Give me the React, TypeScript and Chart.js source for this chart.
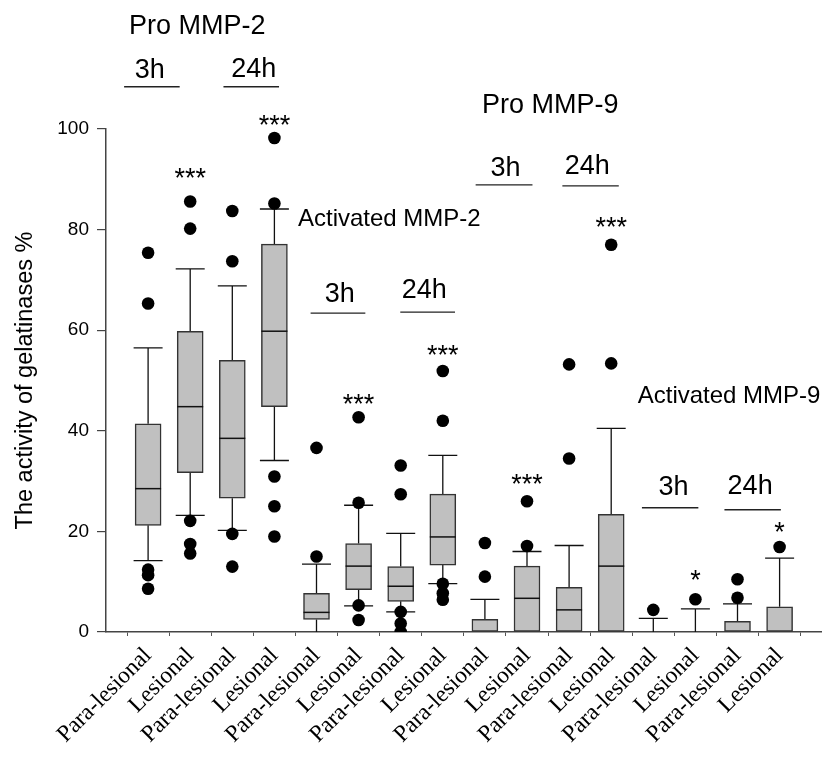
import React, { useEffect, useRef } from 'react';
import { Chart, registerables } from 'chart.js';

Chart.register(...registerables);

// ---------- data ----------
const categories = [
  'Para-lesional', 'Lesional', 'Para-lesional', 'Lesional',
  'Para-lesional', 'Lesional', 'Para-lesional', 'Lesional',
  'Para-lesional', 'Lesional', 'Para-lesional', 'Lesional',
  'Para-lesional', 'Lesional', 'Para-lesional', 'Lesional',
];

const whiskerLow = [14.2, 23.2, 20.2, 34.1, 0, 5.2, 4.0, 9.6, 0, 0, 0, 0, 0, 0, 0, 0];
const q1 = [21.2, 31.7, 26.6, 44.8, 2.5, 8.4, 6.1, 13.3, 0, 0, 0, 0, 0, 0, 0, 0];
const median = [28.5, 44.8, 38.5, 59.8, 3.9, 13.1, 9.1, 18.9, 0, 6.7, 4.4, 13.1, 0, 0, 0, 0];
const q3 = [41.4, 59.8, 54.0, 77.1, 7.7, 17.6, 13.0, 27.4, 2.5, 13.1, 8.9, 23.4, 0, 0, 2.1, 5.0];
const whiskerHigh = [56.5, 72.2, 68.8, 84.1, 13.5, 25.2, 19.6, 35.1, 6.5, 16.0, 17.2, 40.5, 2.7, 4.6, 5.6, 14.7];

const outliers = [
  [75.4, 65.3, 12.4, 11.3, 8.6],
  [85.6, 80.2, 22.1, 17.5, 15.6],
  [83.7, 73.7, 19.5, 13.0],
  [98.2, 85.2, 30.9, 25.0, 19.0],
  [36.6, 15.0],
  [42.7, 25.7, 5.3, 2.4],
  [33.1, 27.4, 4.0, 1.7, 0],
  [51.9, 42.0, 9.6, 7.7, 6.4],
  [17.7, 11.0],
  [26.0, 17.1],
  [53.2, 34.5],
  [77.0, 53.4],
  [4.4],
  [6.5],
  [10.5, 6.8],
  [16.9],
];

const significance = ['', '***', '', '***', '', '***', '', '***', '', '***', '', '***', '', '*', '', '*'];
const significanceLevel = [0, 91.5, 0, 102.2, 0, 46.7, 0, 56.3, 0, 30.8, 0, 81.8, 0, 11.6, 0, 21.3];

// group annotations (in axis units)
const groupTexts = [
  { text: 'Pro MMP-2', x: 2.17, y: 120.3, big: true },
  { text: '3h', x: 1.04, y: 111.7, big: true },
  { text: '24h', x: 3.51, y: 111.9, big: true },
  { text: 'Pro MMP-9', x: 10.55, y: 104.6, big: true },
  { text: '3h', x: 9.49, y: 92.2, big: true },
  { text: '24h', x: 11.43, y: 92.6, big: true },
  { text: 'Activated MMP-2', x: 6.73, y: 82.1, big: false },
  { text: '3h', x: 5.55, y: 67.0, big: true },
  { text: '24h', x: 7.56, y: 67.8, big: true },
  { text: 'Activated MMP-9', x: 14.8, y: 46.9, big: false },
  { text: '3h', x: 13.48, y: 28.8, big: true },
  { text: '24h', x: 15.3, y: 29.0, big: true },
];
const groupLines = [
  { x1: 0.43, x2: 1.75, y: 108.4 },
  { x1: 2.79, x2: 4.11, y: 108.4 },
  { x1: 8.78, x2: 10.13, y: 88.9 },
  { x1: 10.84, x2: 12.18, y: 88.7 },
  { x1: 4.86, x2: 6.16, y: 63.4 },
  { x1: 6.99, x2: 8.29, y: 63.6 },
  { x1: 12.73, x2: 14.07, y: 24.7 },
  { x1: 14.69, x2: 16.03, y: 24.3 },
];

const SANS = '"Liberation Sans", Arial, sans-serif';
const SERIF = '"Liberation Serif", "Times New Roman", serif';

export default function App() {
  const ref = useRef<HTMLCanvasElement>(null);

  useEffect(() => {
    if (!ref.current) return;
    const boxData = categories.map((_, i) => ({ x: i + 1, y: [q1[i], q3[i]] }));
    const outlierData = outliers.flatMap((vals, i) => vals.map((v) => ({ x: i + 1, y: v })));

    const BOX_W = 26;
    const CAP_W = 29;

    const extras = {
      id: 'boxExtras',
      beforeDatasetsDraw(chart: any) {
        const { ctx } = chart;
        const xs = chart.scales.x;
        const ys = chart.scales.y;
        ctx.save();
        ctx.strokeStyle = '#111';
        ctx.lineWidth = 1.3;
        categories.forEach((_, i) => {
          const cx = xs.getPixelForValue(i + 1);
          const yLow = ys.getPixelForValue(whiskerLow[i]);
          const yQ1 = ys.getPixelForValue(q1[i]);
          const yQ3 = ys.getPixelForValue(q3[i]);
          const yHigh = ys.getPixelForValue(whiskerHigh[i]);
          ctx.beginPath();
          ctx.moveTo(cx, yQ3);
          ctx.lineTo(cx, yHigh);
          ctx.moveTo(cx - CAP_W / 2, yHigh);
          ctx.lineTo(cx + CAP_W / 2, yHigh);
          if (q1[i] > whiskerLow[i]) {
            ctx.moveTo(cx, yQ1);
            ctx.lineTo(cx, yLow);
            if (whiskerLow[i] > 0) {
              ctx.moveTo(cx - CAP_W / 2, yLow);
              ctx.lineTo(cx + CAP_W / 2, yLow);
            }
          }
          ctx.stroke();
        });
        ctx.restore();
      },
      afterDatasetsDraw(chart: any) {
        const { ctx } = chart;
        const xs = chart.scales.x;
        const ys = chart.scales.y;
        ctx.save();
        ctx.strokeStyle = '#111';
        ctx.lineWidth = 1.5;
        categories.forEach((_, i) => {
          if (median[i] <= q1[i]) return;
          const cx = xs.getPixelForValue(i + 1);
          const yM = ys.getPixelForValue(median[i]);
          ctx.beginPath();
          ctx.moveTo(cx - BOX_W / 2, yM);
          ctx.lineTo(cx + BOX_W / 2, yM);
          ctx.stroke();
        });
        ctx.restore();
      },
      afterDraw(chart: any) {
        const { ctx } = chart;
        const xs = chart.scales.x;
        const ys = chart.scales.y;
        ctx.save();
        // significance stars
        const starSize = 27;
        ctx.fillStyle = '#000';
        ctx.textAlign = 'center';
        ctx.textBaseline = 'alphabetic';
        ctx.font = `${starSize}px ${SANS}`;
        significance.forEach((s, i) => {
          if (!s) return;
          const cx = xs.getPixelForValue(i + 1);
          const cy = ys.getPixelForValue(significanceLevel[i]);
          ctx.fillText(s, cx, cy + starSize * 0.58);
        });
        // group texts
        ctx.textBaseline = 'middle';
        groupTexts.forEach((g) => {
          ctx.font = `${g.big ? 27 : 24}px ${SANS}`;
          ctx.fillText(g.text, xs.getPixelForValue(g.x), ys.getPixelForValue(g.y));
        });
        ctx.strokeStyle = '#222';
        ctx.lineWidth = 1.3;
        groupLines.forEach((l) => {
          const y = ys.getPixelForValue(l.y);
          ctx.beginPath();
          ctx.moveTo(xs.getPixelForValue(l.x1), y);
          ctx.lineTo(xs.getPixelForValue(l.x2), y);
          ctx.stroke();
        });
        ctx.restore();
      },
    };

    const chart = new Chart(ref.current, {
      type: 'bar',
      data: {
        datasets: [
          {
            type: 'scatter',
            data: outlierData,
            pointRadius: 6.3,
            pointHoverRadius: 6.3,
            backgroundColor: '#000',
            borderColor: '#000',
            borderWidth: 0,
            order: 1,
          } as any,
          {
            type: 'bar',
            data: boxData,
            backgroundColor: '#c0c0c0',
            borderColor: '#333',
            borderWidth: 1.5,
            borderSkipped: false,
            barThickness: BOX_W,
            order: 2,
          } as any,
        ],
      },
      options: {
        responsive: false,
        animation: false,
        events: [],
        layout: { padding: { top: 129, right: 2, left: 0, bottom: 0 } },
        plugins: { legend: { display: false }, tooltip: { enabled: false } },
        scales: {
          x: {
            type: 'linear',
            min: 0,
            max: 17,
            offset: false,
            afterBuildTicks: (s: any) => {
              s.ticks = categories.map((_, i) => ({ value: i + 1 }));
            },
            ticks: {
              autoSkip: false,
              minRotation: 45,
              maxRotation: 45,
              callback: (v: any) => categories[Number(v) - 1] ?? '',
              font: { family: SERIF, size: 23.5 },
              color: '#000',
              padding: 6,
            },
            grid: { drawOnChartArea: false, tickLength: 4, color: '#555', lineWidth: 1 },
            border: { color: '#444', width: 1.5 },
            afterFit: (s: any) => {
              s.height = 125;
              s.paddingLeft = 0;
              s.paddingRight = 0;
            },
          },
          y: {
            min: 0,
            max: 100,
            ticks: { stepSize: 20, font: { family: SANS, size: 19 }, color: '#000', padding: 8 },
            grid: { drawOnChartArea: false, tickLength: 9, color: '#444', lineWidth: 1.2 },
            border: { color: '#444', width: 1.5 },
            title: {
              display: true,
              text: 'The activity of gelatinases %',
              font: { family: SANS, size: 23.5 },
              color: '#000',
              padding: { top: 11, bottom: 0 },
            },
            afterFit: (s: any) => {
              s.width = 106;
            },
          },
        },
      },
      plugins: [extras],
    } as any);

    return () => chart.destroy();
  }, []);

  return (
    <div style={{ position: 'absolute', left: 0, top: 0, width: 828, height: 757, background: '#fff' }}>
      <canvas ref={ref} width={828} height={757} />
    </div>
  );
}
